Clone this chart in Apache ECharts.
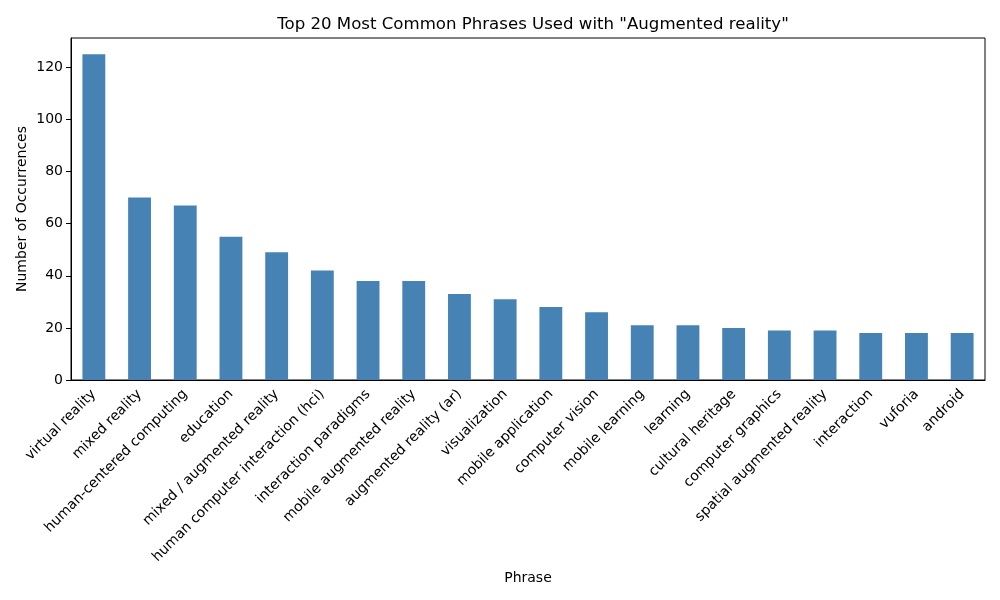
<!DOCTYPE html>
<html><head><meta charset="utf-8">
<script src="https://cdn.jsdelivr.net/npm/echarts@6/dist/echarts.min.js"></script>
<style>html,body{margin:0;padding:0;background:#fff}#c{width:1000px;height:600px}</style>
</head><body><div id="c"></div>
<script>
const categories = ["virtual reality","mixed reality","human-centered computing","education","mixed / augmented reality","human computer interaction (hci)","interaction paradigms","mobile augmented reality","augmented reality (ar)","visualization","mobile application","computer vision","mobile learning","learning","cultural heritage","computer graphics","spatial augmented reality","interaction","vuforia","android"];
const counts = [125,70,67,55,49,42,38,38,33,31,28,26,21,21,20,19,19,18,18,18];
const yTicks = [0,20,40,60,80,100,120];

const chart = echarts.init(document.getElementById('c'));
const font = 'DejaVu Sans';
chart.setOption({
  animation: false,
  textStyle: {fontFamily: font},
  title: {text: 'Top 20 Most Common Phrases Used with "Augmented reality"', left: 528, top: 11, textAlign: 'center',
    textStyle: {fontFamily: font, fontSize: 16.6, fontWeight: 'normal', color: '#000'}},
  grid: {left: 71, right: 15, top: 38, bottom: 220, show: true, borderColor: '#000', borderWidth: 1, containLabel: false},
  xAxis: {
    type: 'category', data: categories, boundaryGap: true,
    name: 'Phrase', nameLocation: 'middle', nameGap: 191, nameMoveOverlap: false,
    nameTextStyle: {fontFamily: font, fontSize: 14, color: '#000'},
    axisLine: {lineStyle: {color: '#000'}},
    axisTick: {alignWithLabel: true, length: 5, lineStyle: {color: '#000'}},
    axisLabel: {rotate: 45, interval: 0, fontFamily: font, fontSize: 14, color: '#000', margin: 12}
  },
  yAxis: {
    type: 'value', min: 0, max: 131.25, interval: 20,
    name: 'Number of Occurrences', nameLocation: 'middle', nameGap: 42, nameMoveOverlap: false,
    nameTextStyle: {fontFamily: font, fontSize: 14, color: '#000'},
    axisLine: {show: true, lineStyle: {color: '#000'}},
    axisTick: {show: true, length: 5, lineStyle: {color: '#000'}},
    splitLine: {show: false},
    axisLabel: {fontFamily: font, fontSize: 14, color: '#000', margin: 8,
      formatter: v => yTicks.includes(v) ? String(v) : '', showMaxLabel: false}
  },
  series: [{type: 'bar', data: counts, barWidth: '50%', itemStyle: {color: '#4682b4'}}]
});
</script></body></html>
